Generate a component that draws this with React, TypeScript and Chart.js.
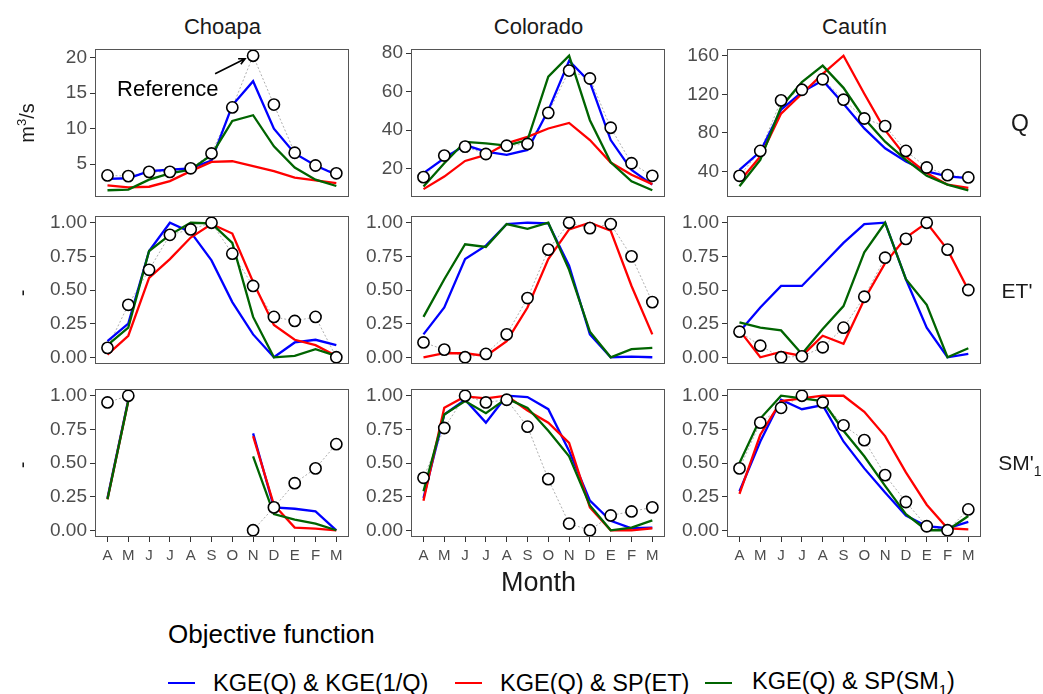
import React, { useEffect, useRef } from "react";
import { Chart, registerables } from "chart.js";
Chart.register(...registerables);

const FONT = "'Liberation Sans', Arial, Helvetica, sans-serif";

// ---------- categories / labels ----------
const months = ["A", "M", "J", "J", "A", "S", "O", "N", "D", "E", "F", "M"];
const basins = ["Choapa", "Colorado", "Cautín"];
const seriesNames = ["KGE(Q) & KGE(1/Q)", "KGE(Q) & SP(ET)", "KGE(Q) & SP(SM"];
const seriesColors = ["#0000FF", "#FF0000", "#006400"];

// ---------- tick labels ----------
const qTicksChoapa = [5, 10, 15, 20];
const qTicksColorado = [20, 40, 60, 80];
const qTicksCautin = [40, 80, 120, 160];
const fracTicks = [0, 0.25, 0.5, 0.75, 1];

// ---------- Q (m3/s) ----------
const choapaQRef = [3.4, 3.3, 3.9, 3.9, 4.4, 6.5, 13.0, 20.3, 13.4, 6.6, 4.8, 3.7];
const choapaQKge = [2.9, 3.0, 4.0, 4.2, 4.4, 5.5, 13.3, 16.7, 10.0, 6.5, 4.8, 3.5];
const choapaQEt = [2.0, 1.7, 1.8, 2.6, 4.0, 5.3, 5.4, 4.7, 4.0, 3.1, 2.7, 2.3];
const choapaQSm = [1.3, 1.4, 2.8, 3.7, 4.2, 6.3, 11.1, 11.9, 7.5, 4.5, 2.8, 1.9];

const coloradoQRef = [15.7, 26.9, 31.5, 27.7, 32.0, 32.9, 49.0, 70.9, 66.8, 41.3, 22.9, 16.4];
const coloradoQKge = [17.8, 25.5, 32.3, 28.9, 27.2, 29.8, 50.3, 76.0, 64.9, 34.9, 19.5, 11.8];
const coloradoQEt = [9.5, 16.0, 24.1, 27.2, 33.2, 36.6, 40.9, 43.8, 34.9, 23.3, 16.9, 12.1];
const coloradoQSm = [10.9, 22.9, 34.0, 33.2, 32.0, 34.9, 67.8, 78.6, 45.2, 23.4, 13.5, 8.9];

const cautinQRef = [35.5, 61.3, 113.7, 124.7, 135.6, 114.4, 94.9, 87.0, 61.3, 44.1, 36.2, 33.8];
const cautinQKge = [41.7, 60.6, 104.0, 122.3, 134.3, 110.3, 84.6, 64.0, 50.3, 40.0, 34.9, 33.1];
const cautinQEt = [29.7, 55.4, 100.0, 120.6, 141.1, 160.0, 120.6, 82.9, 55.4, 38.3, 26.3, 22.9];
const cautinQSm = [24.6, 52.0, 106.9, 132.6, 149.7, 126.7, 94.9, 70.9, 52.0, 35.5, 26.3, 20.5];

// ---------- ET' (-) ----------
const choapaEtRef = [0.07, 0.39, 0.65, 0.91, 0.95, 1.0, 0.77, 0.53, 0.30, 0.27, 0.30, 0.0];
const choapaEtKge = [0.12, 0.25, 0.79, 1.0, 0.93, 0.72, 0.41, 0.17, 0.0, 0.11, 0.13, 0.09];
const choapaEtEt = [0.02, 0.16, 0.59, 0.73, 0.89, 0.99, 0.92, 0.56, 0.24, 0.13, 0.09, 0.01];
const choapaEtSm = [0.09, 0.22, 0.79, 0.91, 1.0, 0.995, 0.85, 0.30, 0.0, 0.01, 0.06, 0.01];

const coloradoEtRef = [0.11, 0.057, 0.0, 0.025, 0.17, 0.44, 0.80, 1.0, 0.96, 0.99, 0.75, 0.41];
const coloradoEtKge = [0.17, 0.37, 0.73, 0.83, 0.99, 1.0, 0.995, 0.68, 0.17, 0.0, 0.005, 0.0];
const coloradoEtEt = [0.0, 0.03, 0.03, 0.01, 0.12, 0.37, 0.73, 0.95, 1.0, 0.94, 0.53, 0.17];
const coloradoEtSm = [0.30, 0.58, 0.84, 0.82, 0.99, 0.955, 1.0, 0.65, 0.19, 0.0, 0.06, 0.07];

const cautinEtRef = [0.19, 0.086, 0.0, 0.007, 0.074, 0.22, 0.45, 0.74, 0.88, 1.0, 0.80, 0.50];
const cautinEtKge = [0.19, 0.37, 0.53, 0.53, 0.69, 0.85, 0.99, 1.0, 0.58, 0.22, 0.0, 0.025];
const cautinEtEt = [0.20, 0.0, 0.04, 0.01, 0.16, 0.10, 0.43, 0.70, 0.89, 1.0, 0.80, 0.50];
const cautinEtSm = [0.26, 0.22, 0.20, 0.025, 0.21, 0.38, 0.78, 1.0, 0.58, 0.39, 0.0, 0.067];

// ---------- SM'1 (-) ----------
const choapaSmRef = [0.95, 1.0, null, null, null, null, null, 0.0, 0.17, 0.35, 0.46, 0.64];
const choapaSmKge = [0.24, 0.97, null, null, null, null, null, 0.72, 0.17, 0.16, 0.14, 0.0];
const choapaSmEt = [0.23, 0.96, null, null, null, null, null, 0.70, 0.19, 0.02, 0.012, 0.0];
const choapaSmSm = [0.23, 0.96, null, null, null, null, null, 0.55, 0.12, 0.08, 0.05, 0.0];

const coloradoSmRef = [0.39, 0.76, 1.0, 0.95, 0.97, 0.77, 0.38, 0.05, 0.0, 0.11, 0.14, 0.17];
const coloradoSmKge = [0.24, 0.86, 0.97, 0.80, 1.0, 0.99, 0.90, 0.59, 0.22, 0.07, 0.015, 0.02];
const coloradoSmEt = [0.22, 0.91, 0.995, 0.98, 1.0, 0.89, 0.80, 0.65, 0.17, 0.0, 0.0, 0.015];
const coloradoSmSm = [0.29, 0.86, 0.96, 0.87, 0.98, 0.91, 0.74, 0.55, 0.185, 0.0, 0.02, 0.074];

const cautinSmRef = [0.46, 0.80, 0.91, 1.0, 0.95, 0.78, 0.67, 0.41, 0.21, 0.03, 0.0, 0.155];
const cautinSmKge = [0.29, 0.66, 0.97, 0.90, 0.93, 0.66, 0.46, 0.28, 0.11, 0.03, 0.015, 0.062];
const cautinSmEt = [0.27, 0.71, 0.96, 0.98, 1.0, 1.0, 0.88, 0.70, 0.43, 0.19, 0.015, 0.007];
const cautinSmSm = [0.50, 0.83, 1.0, 0.98, 0.96, 0.74, 0.55, 0.33, 0.12, 0.0, 0.0, 0.106];

type Series = (number | null)[];
type PanelDef = { ref: Series; lines: Series[]; ticks: number[]; decimals: number };

const panelRows: PanelDef[][] = [
  [
    { ref: choapaQRef, lines: [choapaQKge, choapaQEt, choapaQSm], ticks: qTicksChoapa, decimals: 0 },
    { ref: coloradoQRef, lines: [coloradoQKge, coloradoQEt, coloradoQSm], ticks: qTicksColorado, decimals: 0 },
    { ref: cautinQRef, lines: [cautinQKge, cautinQEt, cautinQSm], ticks: qTicksCautin, decimals: 0 },
  ],
  [
    { ref: choapaEtRef, lines: [choapaEtKge, choapaEtEt, choapaEtSm], ticks: fracTicks, decimals: 2 },
    { ref: coloradoEtRef, lines: [coloradoEtKge, coloradoEtEt, coloradoEtSm], ticks: fracTicks, decimals: 2 },
    { ref: cautinEtRef, lines: [cautinEtKge, cautinEtEt, cautinEtSm], ticks: fracTicks, decimals: 2 },
  ],
  [
    { ref: choapaSmRef, lines: [choapaSmKge, choapaSmEt, choapaSmSm], ticks: fracTicks, decimals: 2 },
    { ref: coloradoSmRef, lines: [coloradoSmKge, coloradoSmEt, coloradoSmSm], ticks: fracTicks, decimals: 2 },
    { ref: cautinSmRef, lines: [cautinSmKge, cautinSmEt, cautinSmSm], ticks: fracTicks, decimals: 2 },
  ],
];

// ---------- layout ----------
const COL_X = [95, 411, 727];
const ROW_Y = [49, 216, 389];
const PLOT_W = 255;
const PLOT_H = 148;
const AXIS_W = 70;
const PAD_T = 12;
const PAD_R = 6;

function limits(arrs: Series[]): [number, number] {
  const vals = arrs.flat().filter((v) => v !== null) as number[];
  const lo = Math.min(...vals);
  const hi = Math.max(...vals);
  const pad = (hi - lo) * 0.05;
  return [lo - pad, hi + pad];
}

const toXY = (s: Series) => s.map((v, i) => ({ x: i + 1, y: v }));

const boxPlugin = {
  id: "panelBox",
  afterDraw(chart: any) {
    const { ctx, chartArea: a } = chart;
    ctx.save();
    ctx.strokeStyle = "#555555";
    ctx.lineWidth = 1;
    ctx.strokeRect(Math.round(a.left) + 0.5, Math.round(a.top) + 0.5, Math.round(a.right - a.left) - 1, Math.round(a.bottom - a.top) - 1);
    ctx.restore();
  },
};

const refAnnotation = {
  id: "refAnnotation",
  afterDatasetsDraw(chart: any) {
    const meta = chart.getDatasetMeta(chart.data.datasets.length - 1);
    const pt = meta.data[7];
    if (!pt) return;
    const { ctx } = chart;
    const x0 = pt.x - 38, y0 = pt.y + 18;
    const x1 = pt.x - 8, y1 = pt.y + 3;
    ctx.save();
    ctx.strokeStyle = "#000";
    ctx.lineWidth = 1.6;
    ctx.beginPath();
    ctx.moveTo(x0, y0);
    ctx.lineTo(x1, y1);
    const ang = Math.atan2(y1 - y0, x1 - x0);
    const L = 7;
    ctx.moveTo(x1 - L * Math.cos(ang - 0.45), y1 - L * Math.sin(ang - 0.45));
    ctx.lineTo(x1, y1);
    ctx.lineTo(x1 - L * Math.cos(ang + 0.45), y1 - L * Math.sin(ang + 0.45));
    ctx.stroke();
    ctx.fillStyle = "#000";
    ctx.font = `22px ${FONT}`;
    ctx.textBaseline = "alphabetic";
    ctx.textAlign = "left";
    ctx.fillText("Reference", pt.x - 136, pt.y + 40);
    ctx.restore();
  },
};

function Panel({ def, row, col }: { def: PanelDef; row: number; col: number }) {
  const ref = useRef<HTMLCanvasElement>(null);
  const bottom = row === 2;
  const xAxisH = bottom ? 36 : 0;
  const padB = bottom ? 0 : 8;
  const width = AXIS_W + PLOT_W + PAD_R;
  const height = PAD_T + PLOT_H + xAxisH + padB;

  useEffect(() => {
    if (!ref.current) return;
    const [ymin, ymax] = limits([def.ref, ...def.lines]);
    const datasets: any[] = [
      {
        label: "ref-line",
        data: toXY(def.ref),
        borderColor: "#9a9a9a",
        borderWidth: 0.8,
        borderDash: [2, 2],
        pointRadius: 0,
        spanGaps: false,
        order: 10,
      },
    ];
    def.lines.forEach((s, i) => {
      datasets.push({
        label: seriesNames[i],
        data: toXY(s),
        borderColor: seriesColors[i],
        borderWidth: 2.3,
        pointRadius: 0,
        spanGaps: false,
        order: 8 - i,
      });
    });
    datasets.push({
      label: "Reference",
      data: toXY(def.ref),
      showLine: false,
      pointRadius: 5.6,
      pointBorderWidth: 1.6,
      pointBackgroundColor: "#ffffff",
      pointBorderColor: "#000000",
      order: 0,
    });

    const chart = new Chart(ref.current, {
      type: "line",
      data: { datasets },
      plugins: row === 0 && col === 0 ? [boxPlugin, refAnnotation] : [boxPlugin],
      options: {
        animation: false,
        responsive: false,
        devicePixelRatio: 1,
        events: [],
        layout: { padding: { left: 0, right: PAD_R, top: PAD_T, bottom: padB } },
        plugins: { legend: { display: false }, tooltip: { enabled: false }, title: { display: false } },
        scales: {
          x: {
            type: "linear",
            min: 0.4,
            max: 12.6,
            display: bottom,
            afterBuildTicks: (s: any) => {
              s.ticks = months.map((_, i) => ({ value: i + 1 }));
            },
            afterFit: (s: any) => {
              s.height = xAxisH;
              s.paddingLeft = 0;
              s.paddingRight = 0;
            },
            grid: { display: true, drawOnChartArea: false, drawTicks: true, tickLength: 5, color: "#333333", lineWidth: 1 },
            border: { display: false },
            ticks: {
              autoSkip: false,
              maxRotation: 0,
              padding: 5,
              color: "#4d4d4d",
              font: { family: FONT, size: 15 },
              callback: (v: any) => months[Math.round(Number(v)) - 1] ?? "",
            },
          },
          y: {
            type: "linear",
            min: ymin,
            max: ymax,
            afterBuildTicks: (s: any) => {
              s.ticks = def.ticks.map((v) => ({ value: v }));
            },
            afterFit: (s: any) => {
              s.width = AXIS_W;
              s.paddingTop = 0;
              s.paddingBottom = 0;
            },
            grid: { display: true, drawOnChartArea: false, drawTicks: true, tickLength: 5, color: "#333333", lineWidth: 1 },
            border: { display: false },
            ticks: {
              padding: 3,
              color: "#4d4d4d",
              font: { family: FONT, size: 19 },
              callback: (v: any) => Number(v).toFixed(def.decimals),
            },
          },
        },
      } as any,
    });
    return () => chart.destroy();
  }, []);

  return (
    <canvas
      ref={ref}
      width={width}
      height={height}
      style={{ position: "absolute", left: COL_X[col] - AXIS_W, top: ROW_Y[row] - PAD_T, width, height }}
    />
  );
}

function Label({ x, y, size, children, rotate, color }: any) {
  return (
    <div
      style={{
        position: "absolute",
        left: x,
        top: y,
        transform: `translate(-50%, -50%)${rotate ? " rotate(-90deg)" : ""}`,
        whiteSpace: "nowrap",
        fontFamily: FONT,
        fontSize: size,
        color: color || "#1a1a1a",
        lineHeight: 1,
      }}
    >
      {children}
    </div>
  );
}

export default function App() {
  const rowMid = ROW_Y.map((y) => y + PLOT_H / 2);
  return (
    <div style={{ position: "absolute", left: 0, top: 0, width: 1043, height: 694, background: "#fff", overflow: "hidden" }}>
      {basins.map((b, c) => (
        <Label key={b} x={COL_X[c] + PLOT_W / 2} y={27} size={22}>
          {b}
        </Label>
      ))}
      {panelRows.map((row, r) => row.map((def, c) => <Panel key={`${r}-${c}`} def={def} row={r} col={c} />))}
      <Label x={1020} y={rowMid[0]} size={23}>Q</Label>
      <Label x={1017} y={rowMid[1]} size={21}>ET'</Label>
      <Label x={1020} y={rowMid[2] + 2} size={21}>
        SM'<sub style={{ fontSize: 14 }}>1</sub>
      </Label>
      <Label x={26} y={rowMid[0]} size={20} rotate>
        m<sup style={{ fontSize: 13 }}>3</sup>/s
      </Label>
      <Label x={22} y={rowMid[1] + 3} size={20} rotate>-</Label>
      <Label x={22} y={rowMid[2] + 2} size={20} rotate>-</Label>
      <Label x={COL_X[1] + PLOT_W / 2} y={582} size={27}>Month</Label>
      <div style={{ position: "absolute", left: 168, top: 621, fontFamily: FONT, fontSize: 26, color: "#000", whiteSpace: "nowrap", lineHeight: 1 }}>
        Objective function
      </div>
      {seriesNames.map((n, i) => {
        const keyX = [168, 455, 705][i];
        return (
          <div key={n} style={{ position: "absolute", left: keyX, top: 670, height: 26, display: "flex", alignItems: "center", whiteSpace: "nowrap", fontFamily: FONT, fontSize: 23.5, color: "#000" }}>
            <div style={{ width: 27, height: 2.5, background: seriesColors[i], marginRight: i === 0 ? 18 : i === 1 ? 18 : 20 }} />
            <span>
              {n}
              {i === 2 ? (
                <>
                  <sub style={{ fontSize: 15 }}>1</sub>)
                </>
              ) : null}
            </span>
          </div>
        );
      })}
    </div>
  );
}
